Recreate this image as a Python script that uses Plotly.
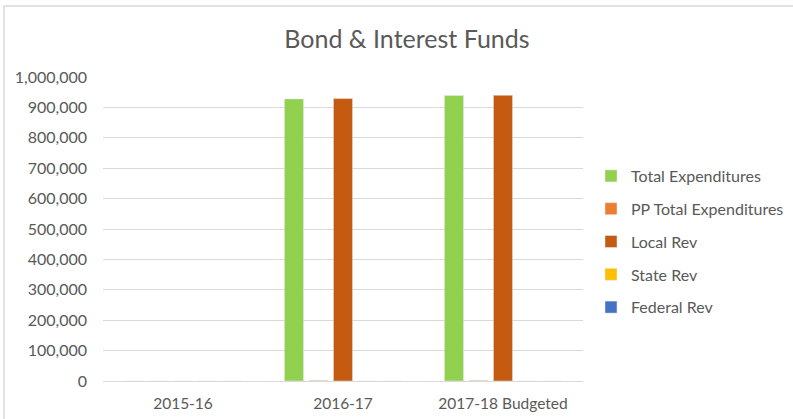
import plotly.graph_objects as go

categories = ["2015-16", "2016-17", "2017-18 Budgeted"]
total_exp = [0, 928000, 939000]
pp_total_exp = [0, 1900, 1950]
local_rev = [0, 929000, 940000]
state_rev = [0, 0, 0]
federal_rev = [0, 0, 0]

series = [
    ("Total Expenditures", total_exp, "#92D050"),
    ("PP Total Expenditures", pp_total_exp, "#ED7D31"),
    ("Local Rev", local_rev, "#C55A11"),
    ("State Rev", state_rev, "#FFC000"),
    ("Federal Rev", federal_rev, "#4472C4"),
]

W, H = 793, 419
L, R, T, B = 103, 210, 77, 38
pw, ph = W - L - R, H - T - B

fig = go.Figure()
for i, (name, vals, col) in enumerate(series):
    fig.add_trace(go.Bar(
        x=categories, y=vals, name=name, marker_color=col,
        legendgroup=f"g{i}",
    ))

font = "Lato, 'Open Sans', sans-serif"
fig.update_layout(
    width=W, height=H,
    margin=dict(l=L, r=R, t=T, b=B, pad=0, autoexpand=False),
    paper_bgcolor="white", plot_bgcolor="white",
    barmode="group", bargap=0.234, bargroupgap=0.22,
    title=dict(text="Bond & Interest Funds", x=407 / W, xanchor="center",
               y=1 - 39 / H, yanchor="middle",
               font=dict(family=font, size=25, color="#595959")),
    font=dict(family=font, size=16, color="#595959"),
    xaxis=dict(showgrid=False, showline=False, ticks="",
               tickfont=dict(size=15.5, color="#595959")),
    yaxis=dict(range=[0, 1000000], dtick=100000, tickformat=",d",
               showgrid=True, gridcolor="#D9D9D9", gridwidth=1,
               zeroline=True, zerolinecolor="#D9D9D9", zerolinewidth=1,
               showline=False, ticks="", ticklen=0,
               tickfont=dict(size=16, color="#595959")),
    legend=dict(x=(591 - L) / pw, xanchor="left", y=(381 - 159) / ph, yanchor="top",
                tracegroupgap=9, font=dict(size=16, color="#595959"),
                bgcolor="rgba(0,0,0,0)", itemwidth=30),
    showlegend=True,
)
fig.update_yaxes(ticklabelstandoff=15)
fig.update_xaxes(ticklabelstandoff=11)

fig.add_shape(type="rect", xref="paper", yref="paper",
              x0=(4 - L) / pw, x1=(W + 20 - L) / pw,
              y0=(381 - (H + 20)) / ph, y1=(381 - 6) / ph,
              line=dict(color="#D9D9D9", width=1.5), fillcolor="rgba(0,0,0,0)", layer="below")

fig.write_html("out.html")
